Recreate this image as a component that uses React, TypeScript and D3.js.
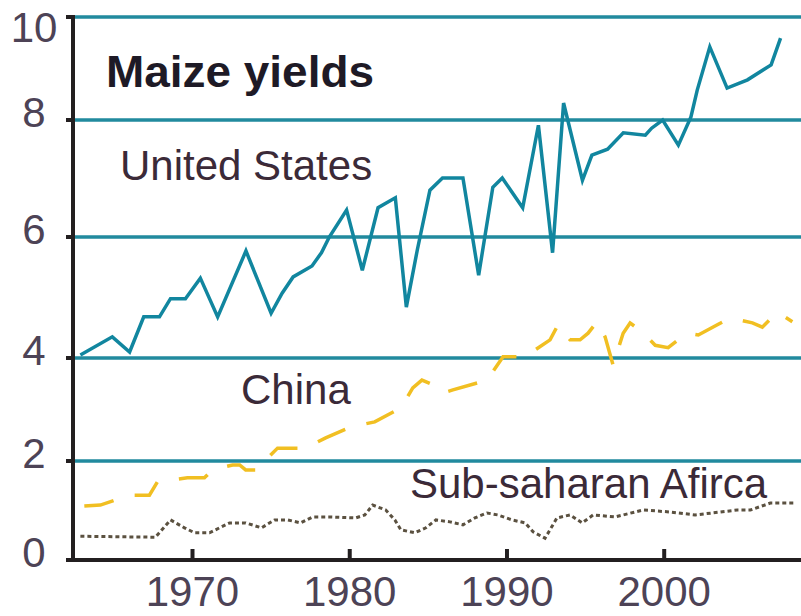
import React from 'react';
import * as d3 from 'd3';

const usYears = [1962.87, 1964.9, 1966.0, 1966.9, 1967.9, 1968.6, 1969.55, 1970.5, 1971.6, 1973.4, 1975.0, 1975.7, 1976.4, 1977.6, 1978.2, 1978.7, 1979.8, 1980.8, 1981.8, 1982.9, 1983.6, 1984.3, 1985.1, 1985.9, 1987.2, 1988.2, 1989.1, 1989.7, 1991.0, 1992.0, 1992.9, 1993.6, 1994.8, 1995.4, 1996.4, 1997.4, 1998.8, 1999.2, 1999.9, 2000.9, 2001.7, 2002.1, 2002.9, 2004.0, 2005.3, 2006.8, 2007.4];
const usYield = [4.05, 4.35, 4.10, 4.68, 4.68, 4.98, 4.98, 5.32, 4.68, 5.77, 4.74, 5.07, 5.34, 5.52, 5.74, 6.0, 6.46, 5.45, 6.5, 6.67, 4.84, 5.79, 6.8, 7.01, 7.01, 5.37, 6.85, 7.01, 6.5, 7.91, 5.74, 8.33, 6.97, 7.4, 7.5, 7.78, 7.74, 7.86, 8.0, 7.57, 8.06, 8.58, 9.42, 8.62, 8.78, 9.07, 9.59];

const chinaYears = [1963.12, 1964.14, 1965.99, 1967.26, 1967.77, 1969.68, 1970.76, 1971.27, 1972.55, 1973.0, 1973.38, 1974.14, 1974.33, 1975.41, 1977.2, 1978.47, 1980.06, 1981.59, 1983.25, 1984.01, 1984.59, 1985.29, 1985.92, 1986.56, 1988.73, 1989.75, 1991.15, 1992.74, 1993.25, 1994.01, 1994.65, 1995.16, 1995.73, 1996.24, 1996.75, 1997.39, 1997.83, 1998.6, 1999.43, 2000.25, 2000.89, 2001.46, 2002.17, 2003.38, 2004.2, 2005.61, 2006.24, 2007.2, 2008.15];
const chinaYield = [1.09, 1.11, 1.31, 1.31, 1.58, 1.66, 1.66, 1.82, 1.92, 1.92, 1.82, 1.82, 1.92, 2.25, 2.25, 2.45, 2.66, 2.76, 3.03, 3.42, 3.57, 3.48, 3.32, 3.38, 3.57, 4.02, 4.02, 4.30, 4.55, 4.30, 4.30, 4.41, 4.60, 4.35, 3.86, 4.41, 4.58, 4.43, 4.21, 4.17, 4.30, 4.41, 4.38, 4.55, 4.66, 4.58, 4.51, 4.76, 4.60];

const africaYears = [1962.87, 1967.64, 1968.6, 1969.49, 1970.13, 1971.08, 1972.36, 1973.38, 1974.39, 1975.22, 1976.05, 1976.88, 1977.64, 1978.73, 1980.38, 1980.96, 1981.46, 1982.29, 1982.87, 1983.25, 1984.14, 1984.84, 1985.48, 1986.37, 1987.2, 1987.96, 1988.73, 1989.43, 1990.32, 1991.15, 1991.66, 1992.42, 1993.18, 1994.01, 1994.78, 1995.48, 1996.88, 1998.66, 2000.38, 2001.97, 2004.65, 2005.48, 2006.75, 2008.22];
const africaYield = [0.48, 0.46, 0.81, 0.65, 0.55, 0.55, 0.75, 0.75, 0.65, 0.81, 0.81, 0.75, 0.87, 0.87, 0.85, 0.91, 1.11, 1.01, 0.81, 0.61, 0.55, 0.65, 0.81, 0.77, 0.71, 0.85, 0.95, 0.91, 0.81, 0.75, 0.57, 0.44, 0.85, 0.91, 0.75, 0.91, 0.87, 1.01, 0.97, 0.91, 1.01, 1.01, 1.15, 1.15];

const yTicks = [0, 2, 4, 6, 8, 10];
const xTicks = [1970, 1980, 1990, 2000];

const FONT = '"Liberation Sans", Arial, sans-serif';

export default function App() {
  const W = 801;
  const H = 616;
  const x = d3.scaleLinear().domain([1962.4, 2008.7]).range([73, 801]);
  const y = d3.scaleLinear().domain(yTicks).range([560, 461, 358, 237, 120, 17]);
  const line = d3
    .line<[number, number]>()
    .x((d) => x(d[0]))
    .y((d) => y(d[1]));

  const us = usYears.map((yr, i) => [yr, usYield[i]] as [number, number]);
  const china = chinaYears.map((yr, i) => [yr, chinaYield[i]] as [number, number]);
  const africa = africaYears.map((yr, i) => [yr, africaYield[i]] as [number, number]);

  const axisColor = '#231f20';
  const gridColor = '#218a9e';
  const tickText = '#4d4356';
  const labelText = '#3b2a38';

  return (
    <svg
      width={W}
      height={H}
      style={{ position: 'absolute', left: 0, top: 0, background: '#fff' }}
    >
      <rect x={0} y={0} width={W} height={H} fill="#fff" />
      {/* gridlines */}
      {yTicks.filter((t) => t > 0).map((t) => (
        <line key={'g' + t} x1={x.range()[0]} x2={W} y1={y(t)} y2={y(t)} stroke={gridColor} strokeWidth={3.5} />
      ))}
      {/* left ticks */}
      {yTicks.map((t) => (
        <line key={'lt' + t} x1={66} x2={x.range()[0]} y1={y(t)} y2={y(t)} stroke={axisColor} strokeWidth={4} />
      ))}
      {/* y labels */}
      {yTicks.map((t) => (
        <text
          key={'yl' + t}
          x={34}
          y={Math.max(y(t) + 7, 42)}
          textAnchor="middle"
          fontFamily={FONT}
          fontSize={42}
          fill={tickText}
        >
          {t}
        </text>
      ))}
      {/* series */}
      <path d={line(africa) || ''} fill="none" stroke="#5b5140" strokeWidth={3} strokeDasharray="4 3" />
      <path d={line(china) || ''} fill="none" stroke="#f1bf22" strokeWidth={3.5} strokeDasharray="30 22" />
      <path d={line(us) || ''} fill="none" stroke="#11869f" strokeWidth={3.5} strokeLinejoin="miter" />
      {/* axes */}
      <line x1={x.range()[0]} x2={x.range()[0]} y1={y(10) - 2} y2={y(0) + 2} stroke={axisColor} strokeWidth={4} />
      <line x1={66} x2={W} y1={y(0)} y2={y(0)} stroke={axisColor} strokeWidth={4} />
      {xTicks.map((t) => (
        <g key={'xt' + t}>
          <line x1={x(t)} x2={x(t)} y1={y(0)} y2={y(0) - 11} stroke={axisColor} strokeWidth={4} />
          <text x={x(t)} y={606} textAnchor="middle" fontFamily={FONT} fontSize={42} fill={tickText}>
            {t}
          </text>
        </g>
      ))}
      {/* labels */}
      <text x={106} y={87} fontFamily={FONT} fontSize={44} fontWeight="bold" fill="#1e1a26" textLength={268} lengthAdjust="spacingAndGlyphs">
        Maize yields
      </text>
      <text x={120} y={180} fontFamily={FONT} fontSize={42} fill={labelText}>
        United States
      </text>
      <text x={241} y={404} fontFamily={FONT} fontSize={42} fill={labelText}>
        China
      </text>
      <text x={410} y={498} fontFamily={FONT} fontSize={42} fill={labelText}>
        Sub-saharan Afirca
      </text>
    </svg>
  );
}
